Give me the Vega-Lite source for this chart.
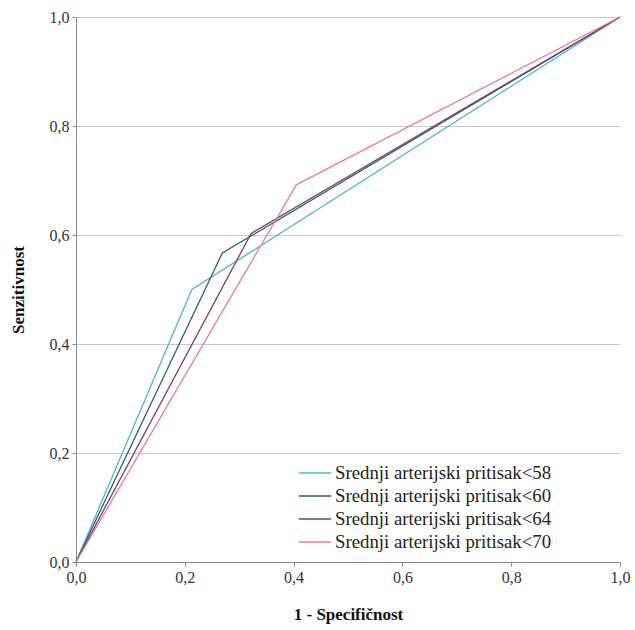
{
  "$schema": "https://vega.github.io/schema/vega-lite/v6.json",
  "width": 544,
  "height": 545,
  "autosize": {"type": "none"},
  "padding": {"left": 76, "top": 17, "right": 15, "bottom": 68},
  "background": "white",
  "data": {
    "values": [
      {"serija": "Srednji arterijski pritisak<58", "fpr": 0, "tpr": 0, "red": 0},
      {"serija": "Srednji arterijski pritisak<58", "fpr": 0.213, "tpr": 0.5, "red": 1},
      {"serija": "Srednji arterijski pritisak<58", "fpr": 1, "tpr": 1, "red": 2},
      {"serija": "Srednji arterijski pritisak<60", "fpr": 0, "tpr": 0, "red": 0},
      {"serija": "Srednji arterijski pritisak<60", "fpr": 0.269, "tpr": 0.567, "red": 1},
      {"serija": "Srednji arterijski pritisak<60", "fpr": 1, "tpr": 1, "red": 2},
      {"serija": "Srednji arterijski pritisak<64", "fpr": 0, "tpr": 0, "red": 0},
      {"serija": "Srednji arterijski pritisak<64", "fpr": 0.322, "tpr": 0.603, "red": 1},
      {"serija": "Srednji arterijski pritisak<64", "fpr": 1, "tpr": 1, "red": 2},
      {"serija": "Srednji arterijski pritisak<70", "fpr": 0, "tpr": 0, "red": 0},
      {"serija": "Srednji arterijski pritisak<70", "fpr": 0.405, "tpr": 0.692, "red": 1},
      {"serija": "Srednji arterijski pritisak<70", "fpr": 1, "tpr": 1, "red": 2}
    ]
  },
  "mark": {"type": "line", "strokeWidth": 1.3, "clip": false},
  "encoding": {
    "x": {
      "field": "fpr", "type": "quantitative",
      "scale": {"domain": [0, 1], "nice": false, "zero": false},
      "axis": {
        "title": "1 - Specifičnost",
        "values": [0, 0.2, 0.4, 0.6, 0.8, 1],
        "labelExpr": "replace(format(datum.value, '.1f'), '.', ',')",
        "grid": false,
        "labelFlush": false,
        "titlePadding": 21
      }
    },
    "y": {
      "field": "tpr", "type": "quantitative",
      "scale": {"domain": [0, 1], "nice": false, "zero": false},
      "axis": {
        "title": "Senzitivnost",
        "values": [0, 0.2, 0.4, 0.6, 0.8, 1],
        "labelExpr": "replace(format(datum.value, '.1f'), '.', ',')",
        "grid": true,
        "labelFlush": false,
        "titlePadding": 22
      }
    },
    "order": {"field": "red", "type": "quantitative"},
    "color": {
      "field": "serija", "type": "nominal",
      "scale": {
        "domain": ["Srednji arterijski pritisak<58", "Srednji arterijski pritisak<60", "Srednji arterijski pritisak<64", "Srednji arterijski pritisak<70"],
        "range": ["#4ab8cc", "#2e6463", "#7a3b76", "#ec7d88"]
      },
      "legend": {
        "title": null,
        "orient": "none",
        "legendX": 222,
        "legendY": 446,
        "symbolType": "stroke",
        "symbolSize": 1050,
        "symbolStrokeWidth": 1.3,
        "clipHeight": 20,
        "labelFontSize": 18.8,
        "labelColor": "#222222",
        "labelOffset": 3,
        "labelLimit": 400,
        "rowPadding": 3,
        "fillColor": "white"
      }
    }
  },
  "config": {
    "font": "Liberation Serif",
    "view": {"stroke": null},
    "legend": {"labelFont": "Liberation Serif"},
    "axis": {
      "labelFont": "Liberation Serif",
      "labelFontSize": 16,
      "labelColor": "#333333",
      "titleFont": "Liberation Serif",
      "titleFontSize": 17,
      "titleFontWeight": "bold",
      "titleColor": "#111111",
      "domainColor": "#8c8c8c",
      "tickColor": "#8c8c8c",
      "tickSize": 4,
      "gridColor": "#c8c8c8",
      "gridWidth": 1.2,
      "labelPadding": 3
    }
  }
}
